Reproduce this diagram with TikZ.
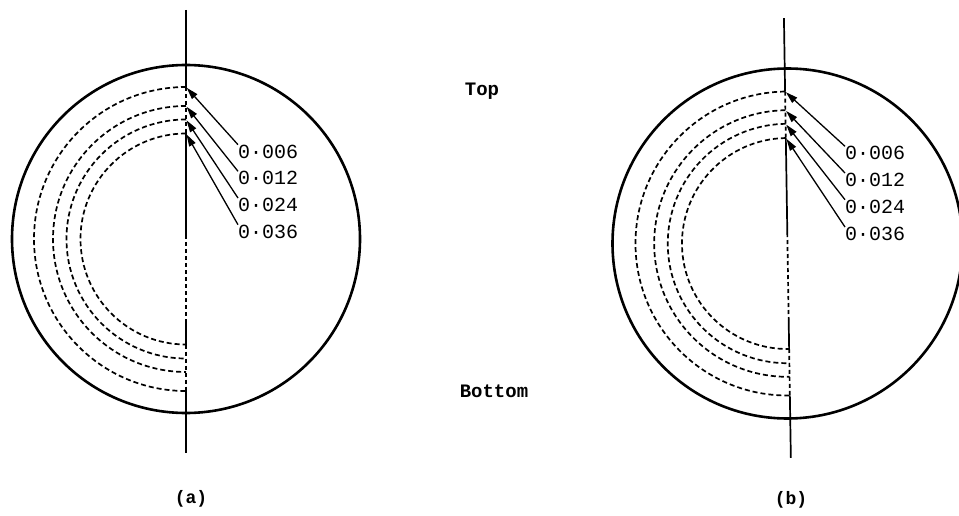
\documentclass[tikz,border=0pt]{standalone}
\usepackage{fontspec}
\setmonofont{Liberation Mono}
\usetikzlibrary{arrows.meta}
\begin{document}
\begin{tikzpicture}[x=1pt,y=1pt,
  rim/.style={line width=2.6pt},
  axis/.style={line width=1.7pt},
  axisdash/.style={line width=1.7pt, dash pattern=on 4pt off 3pt},
  ring/.style={line width=1.7pt, dash pattern=on 5pt off 3pt},
  lead/.style={line width=1.3pt, -{Triangle[length=12pt,width=7pt]}, shorten >=1pt},
  val/.style={font=\ttfamily\fontsize{20}{20}\selectfont, inner sep=0pt, anchor=west},
  lbl/.style={font=\ttfamily\bfseries\fontsize{19}{19}\selectfont, inner sep=0pt},
  panelcap/.style={font=\ttfamily\bfseries\fontsize{18}{18}\selectfont, inner sep=0pt}]
\useasboundingbox (0,0) rectangle (959,515);

% ---------- left panel (a)
\draw[rim] (186,276) circle (174);
\coordinate (A1) at (186,428);
\coordinate (A2) at (186,409);
\coordinate (A3) at (186,395.5);
\coordinate (A4) at (186,381.5);
\coordinate (B1) at (186,124);
\coordinate (B2) at (186,143);
\coordinate (B3) at (186,156.5);
\coordinate (B4) at (186,170.5);
\coordinate (Ltop) at (186,505);
\coordinate (Lbot) at (186,62);
\coordinate (Lm1) at (186,280);
\coordinate (Lm2) at (186,195);
\draw[ring] (A1) arc (90:270:152);
\draw[ring] (A2) arc (90:270:133);
\draw[ring] (A3) arc (90:270:119.5);
\draw[ring] (A4) arc (90:270:105.5);
\draw[axis] (Ltop) -- (A1);
\draw[axisdash] (A1) -- (A4);
\draw[axis] (A4) -- (Lm1);
\draw[axisdash] (Lm1) -- (Lm2);
\draw[axis] (Lm2) -- (B4);
\draw[axisdash] (B4) -- (B1);
\draw[axis] (B1) -- (Lbot);

\node[val] (la1) at (238,363.3) {0·006};
\node[val] (la2) at (238,336.7) {0·012};
\node[val] (la3) at (238,310) {0·024};
\node[val] (la4) at (238,283.3) {0·036};
\draw[lead] (la1.north west) -- (A1);
\draw[lead] (la2.north west) -- (A2);
\draw[lead] (la3.north west) -- (A3);
\draw[lead] (la4.north west) -- (A4);

\node[panelcap] (capa) at (191,16) {(a)};

% ---------- right panel (b)
\begin{scope}[rotate around={0.9:(787.5,271.5)}]
\draw[rim] (787.5,271.5) circle (175);
\coordinate (C1) at (787.5,423.5);
\coordinate (C2) at (787.5,404.8);
\coordinate (C3) at (787.5,391.2);
\coordinate (C4) at (787.5,377);
\coordinate (D1) at (787.5,119.5);
\coordinate (D2) at (787.5,138.2);
\coordinate (D3) at (787.5,151.8);
\coordinate (D4) at (787.5,166);
\coordinate (Rtop) at (787.5,497);
\coordinate (Rbot) at (787.5,57);
\coordinate (Rm1) at (787.5,282);
\coordinate (Rm2) at (787.5,195);
\draw[ring] (C1) arc (90:270:152);
\draw[ring] (C2) arc (90:270:133.3);
\draw[ring] (C3) arc (90:270:119.7);
\draw[ring] (C4) arc (90:270:105.5);
\draw[axis] (Rtop) -- (C1);
\draw[axisdash] (C1) -- (C4);
\draw[axis] (C4) -- (Rm1);
\draw[axisdash] (Rm1) -- (Rm2);
\draw[axis] (Rm2) -- (D4);
\draw[axisdash] (D4) -- (D1);
\draw[axis] (D1) -- (Rbot);
\end{scope}

\node[val] (lb1) at (845,361.7) {0·006};
\node[val] (lb2) at (845,335) {0·012};
\node[val] (lb3) at (845,308.3) {0·024};
\node[val] (lb4) at (845,281) {0·036};
\draw[lead] (lb1.north west) -- (C1);
\draw[lead] (lb2.north west) -- (C2);
\draw[lead] (lb3.north west) -- (C3);
\draw[lead] (lb4.north west) -- (C4);

\node[panelcap] (capb) at (791,15) {(b)};

% ---------- middle labels
\node[lbl] (top) at (482,424) {Top};
\node[lbl] (bottom) at (494,124) {Bottom};
\end{tikzpicture}
\end{document}
